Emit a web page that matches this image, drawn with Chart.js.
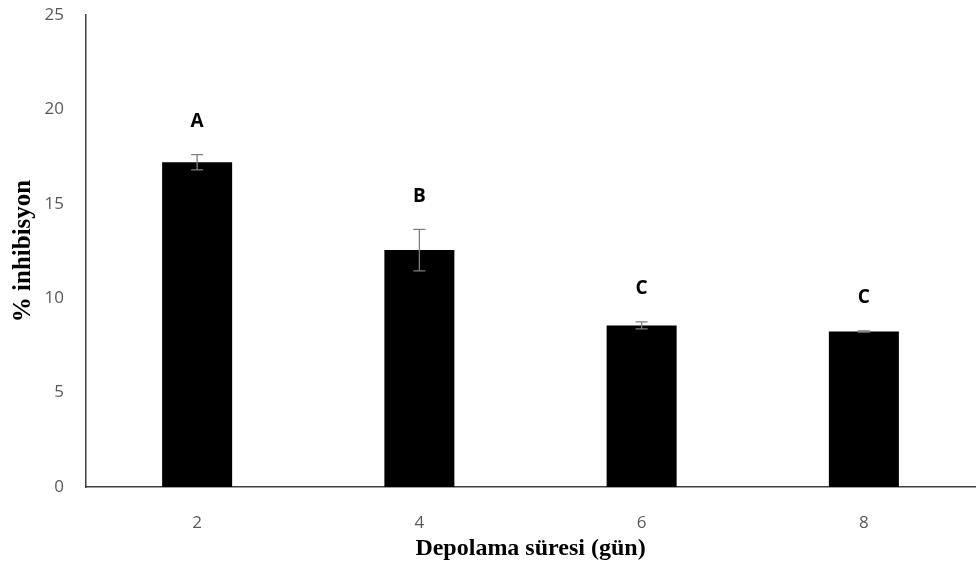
<!DOCTYPE html>
<html>
<head>
<meta charset="utf-8">
<script src="https://cdn.jsdelivr.net/npm/chart.js@4"></script>
<style>
  html, body { margin: 0; padding: 0; background: #fff; }
  #wrap { width: 976px; height: 575px; }
</style>
</head>
<body>
<div id="wrap"><canvas id="chart"></canvas></div>
<script>
"use strict";
///////////////////////////////
//Data
const days = ["2", "4", "6", "8"];
const inhibition = [17.2, 12.55, 8.56, 8.24];
const errors = [0.4, 1.1, 0.19, 0.03];
const groups = ["A", "B", "C", "C"];
const yTicks = [0, 5, 10, 15, 20, 25];

//////////////////////////////
//Plugins

// error bars + letters above them
const errorBarPlugin = {
  id: "errorBars",
  afterDatasetsDraw: function (chart) {
    const ctx = chart.ctx;
    const meta = chart.getDatasetMeta(0);
    const y = chart.scales.y;
    ctx.save();
    meta.data.forEach(function (bar, i) {
      const top = y.getPixelForValue(inhibition[i] + errors[i]);
      const bottom = y.getPixelForValue(inhibition[i] - errors[i]);
      ctx.strokeStyle = "#7f7f7f";
      ctx.lineWidth = 1.3;
      ctx.beginPath();
      ctx.moveTo(bar.x, top);
      ctx.lineTo(bar.x, bottom);
      ctx.moveTo(bar.x - 6, top);
      ctx.lineTo(bar.x + 6, top);
      ctx.moveTo(bar.x - 6, bottom);
      ctx.lineTo(bar.x + 6, bottom);
      ctx.stroke();

      ctx.fillStyle = "#000";
      ctx.font = "bold 19px 'Open Sans', sans-serif";
      ctx.textAlign = "center";
      ctx.textBaseline = "middle";
      ctx.fillText(groups[i], bar.x, top - 33);
    });
    ctx.restore();
  },
};

//////////////////////////////
//Chart
new Chart(document.getElementById("chart"), {
  type: "bar",
  data: {
    labels: days,
    datasets: [
      {
        data: inhibition,
        backgroundColor: "#000",
        borderWidth: 0,
        categoryPercentage: 1,
        barPercentage: 0.315,
      },
    ],
  },
  options: {
    responsive: true,
    maintainAspectRatio: false,
    animation: false,
    layout: { padding: { top: 15, right: 1, left: 0, bottom: 0 } },
    plugins: {
      legend: { display: false },
      tooltip: { enabled: false },
    },
    scales: {
      x: {
        grid: { display: false },
        border: { display: true, color: "#404040", width: 1.5 },
        ticks: {
          color: "#595959",
          font: { family: "'Open Sans', sans-serif", size: 17 },
          padding: 18,
        },
        title: {
          display: true,
          text: "Depolama süresi (gün)",
          color: "#000",
          font: { family: "'Liberation Serif', serif", size: 24, weight: "bold" },
          padding: { top: 0, bottom: 12 },
        },
        afterFit: function (scale) {
          scale.height = 88;
        },
      },
      y: {
        min: 0,
        max: 25,
        grid: { display: false },
        border: { display: true, color: "#404040", width: 1.5 },
        afterBuildTicks: function (scale) {
          scale.ticks = yTicks.map(function (v) {
            return { value: v };
          });
        },
        ticks: {
          color: "#595959",
          font: { family: "'Open Sans', sans-serif", size: 17 },
          padding: 14,
        },
        title: {
          display: true,
          text: "% inhibisyon",
          color: "#000",
          font: { family: "'Liberation Serif', serif", size: 25, weight: "bold" },
          padding: { top: 9, bottom: 0 },
        },
        afterFit: function (scale) {
          scale.width = 86;
          scale.paddingTop = 0;
          scale.paddingBottom = 0;
        },
      },
    },
  },
  plugins: [errorBarPlugin],
});
</script>
</body>
</html>
